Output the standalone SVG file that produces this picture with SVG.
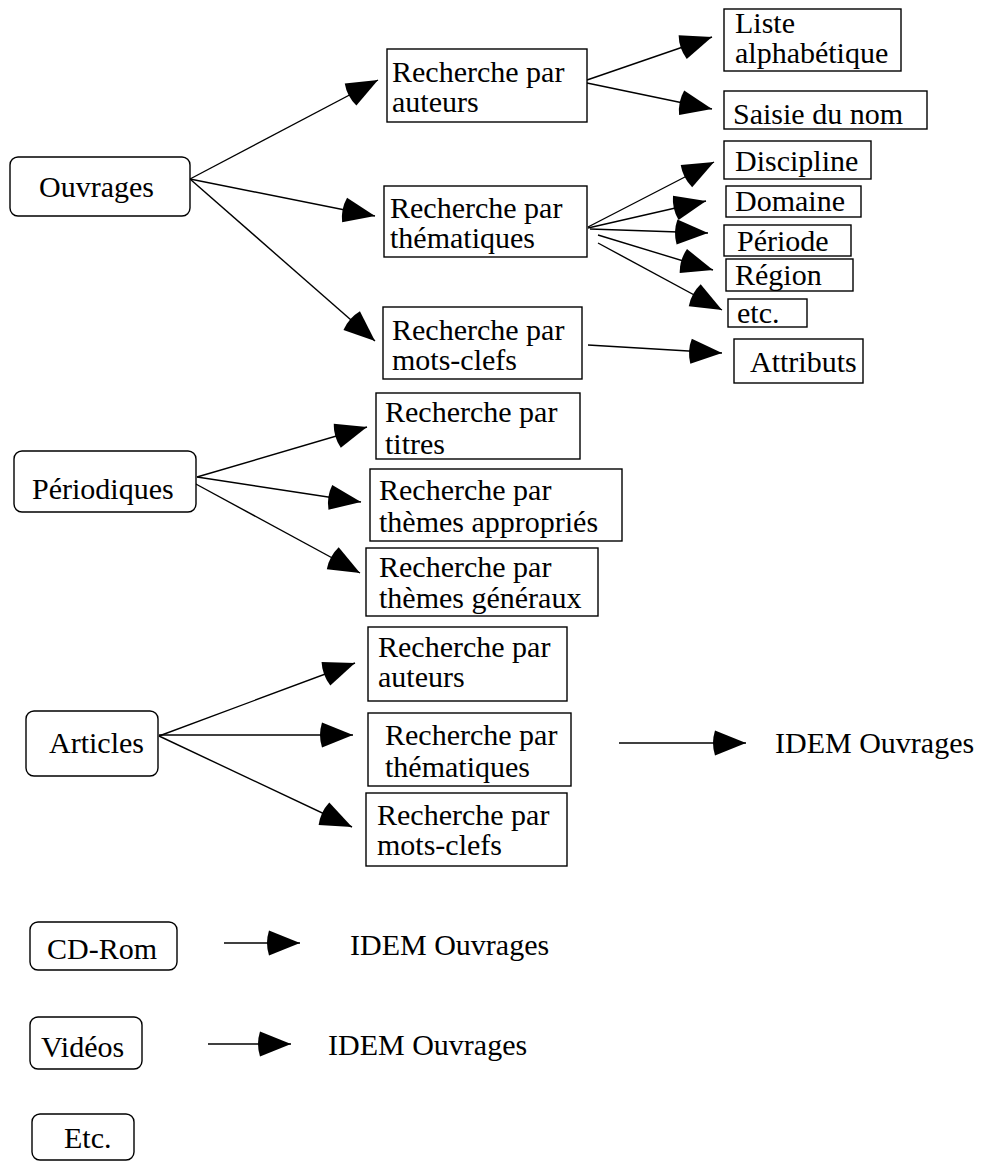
<svg xmlns="http://www.w3.org/2000/svg" width="982" height="1161" viewBox="0 0 982 1161">
<style>
  .box{fill:#fff;stroke:#000;stroke-width:1.4}
  .t{font-family:"Liberation Serif","Times New Roman",serif;font-size:30px;fill:#000}
  .c{stroke:#000;stroke-width:1.4;fill:none;marker-end:url(#ah)}
</style>
<defs>
  <marker id="ah" markerUnits="userSpaceOnUse" markerWidth="40" markerHeight="30" refX="31" refY="12.5" orient="auto" overflow="visible">
    <path d="M0,0 L31,12.5 L0,25 Q-4,12.5 0,0 Z" fill="#000"/>
  </marker>
</defs>
<rect width="982" height="1161" fill="#fff"/>

<g id="connectors">
  <line class="c" x1="190" y1="179" x2="378" y2="80"/>
  <line class="c" x1="190" y1="179" x2="375" y2="216"/>
  <line class="c" x1="190" y1="179" x2="375" y2="341"/>
  <line class="c" x1="587" y1="80" x2="712" y2="37"/>
  <line class="c" x1="587" y1="83" x2="712" y2="109"/>
  <line class="c" x1="588" y1="227" x2="714" y2="162"/>
  <line class="c" x1="588" y1="228" x2="706" y2="201"/>
  <line class="c" x1="590" y1="229" x2="708" y2="233"/>
  <line class="c" x1="598" y1="235" x2="713" y2="270"/>
  <line class="c" x1="598" y1="243" x2="722" y2="310"/>
  <line class="c" x1="588" y1="345" x2="722" y2="353"/>
  <line class="c" x1="197" y1="477" x2="367" y2="427"/>
  <line class="c" x1="197" y1="477" x2="361" y2="502"/>
  <line class="c" x1="194" y1="483" x2="360" y2="573"/>
  <line class="c" x1="159" y1="736" x2="355" y2="663"/>
  <line class="c" x1="159" y1="735" x2="353" y2="735"/>
  <line class="c" x1="159" y1="736" x2="352" y2="827"/>
  <line class="c" x1="619" y1="743" x2="746" y2="743"/>
  <line class="c" x1="224" y1="943" x2="300" y2="943"/>
  <line class="c" x1="208" y1="1044" x2="291" y2="1044"/>
</g>

<g id="ouvrages"><rect class="box" x="10" y="157" width="180" height="59" rx="8"/><text class="t" x="39" y="197">Ouvrages</text></g>
<g id="o-auteurs"><rect class="box" x="387" y="49" width="200" height="73"/><text class="t" x="392" y="82">Recherche par</text><text class="t" x="392" y="112">auteurs</text></g>
<g id="o-thematiques"><rect class="box" x="384" y="186" width="203" height="71"/><text class="t" x="390" y="218">Recherche par</text><text class="t" x="390" y="248">thématiques</text></g>
<g id="o-motsclefs"><rect class="box" x="383" y="307" width="199" height="72"/><text class="t" x="392" y="340">Recherche par</text><text class="t" x="392" y="370">mots-clefs</text></g>

<g id="liste"><rect class="box" x="724" y="9" width="177" height="62"/><text class="t" x="735" y="33">Liste</text><text class="t" x="735" y="63">alphabétique</text></g>
<g id="saisie"><rect class="box" x="724" y="91" width="203" height="38"/><text class="t" x="733" y="124">Saisie du nom</text></g>
<g id="discipline"><rect class="box" x="724" y="141" width="147" height="38"/><text class="t" x="735" y="171">Discipline</text></g>
<g id="domaine"><rect class="box" x="726" y="186" width="135" height="31"/><text class="t" x="735" y="211">Domaine</text></g>
<g id="periode"><rect class="box" x="724" y="225" width="127" height="31"/><text class="t" x="737" y="251">Période</text></g>
<g id="region"><rect class="box" x="726" y="259" width="127" height="32"/><text class="t" x="735" y="285">Région</text></g>
<g id="etc1"><rect class="box" x="728" y="299" width="79" height="28"/><text class="t" x="737" y="323">etc.</text></g>
<g id="attributs"><rect class="box" x="734" y="339" width="129" height="44"/><text class="t" x="750" y="372">Attributs</text></g>

<g id="periodiques"><rect class="box" x="14" y="451" width="182" height="61" rx="8"/><text class="t" x="32" y="499">Périodiques</text></g>
<g id="p-titres"><rect class="box" x="376" y="393" width="204" height="66"/><text class="t" x="385" y="422">Recherche par</text><text class="t" x="385" y="454">titres</text></g>
<g id="p-appropries"><rect class="box" x="370" y="469" width="252" height="72"/><text class="t" x="379" y="500">Recherche par</text><text class="t" x="379" y="532">thèmes appropriés</text></g>
<g id="p-generaux"><rect class="box" x="366" y="548" width="232" height="68"/><text class="t" x="379" y="577">Recherche par</text><text class="t" x="379" y="608">thèmes généraux</text></g>

<g id="articles"><rect class="box" x="26" y="711" width="132" height="65" rx="8"/><text class="t" x="49" y="753">Articles</text></g>
<g id="a-auteurs"><rect class="box" x="368" y="627" width="199" height="74"/><text class="t" x="378" y="657">Recherche par</text><text class="t" x="378" y="687">auteurs</text></g>
<g id="a-thematiques"><rect class="box" x="368" y="713" width="203" height="73"/><text class="t" x="385" y="745">Recherche par</text><text class="t" x="385" y="777">thématiques</text></g>
<g id="a-motsclefs"><rect class="box" x="366" y="793" width="201" height="73"/><text class="t" x="377" y="825">Recherche par</text><text class="t" x="377" y="855">mots-clefs</text></g>
<g id="idem-articles"><text class="t" x="775" y="753">IDEM Ouvrages</text></g>

<g id="cdrom"><rect class="box" x="30" y="922" width="147" height="48" rx="8"/><text class="t" x="47" y="959">CD-Rom</text></g>
<g id="idem-cdrom"><text class="t" x="350" y="955">IDEM Ouvrages</text></g>
<g id="videos"><rect class="box" x="30" y="1017" width="112" height="52" rx="8"/><text class="t" x="41" y="1057">Vidéos</text></g>
<g id="idem-videos"><text class="t" x="328" y="1055">IDEM Ouvrages</text></g>
<g id="etc2"><rect class="box" x="32" y="1114" width="102" height="46" rx="8"/><text class="t" x="64" y="1148">Etc.</text></g>
</svg>
